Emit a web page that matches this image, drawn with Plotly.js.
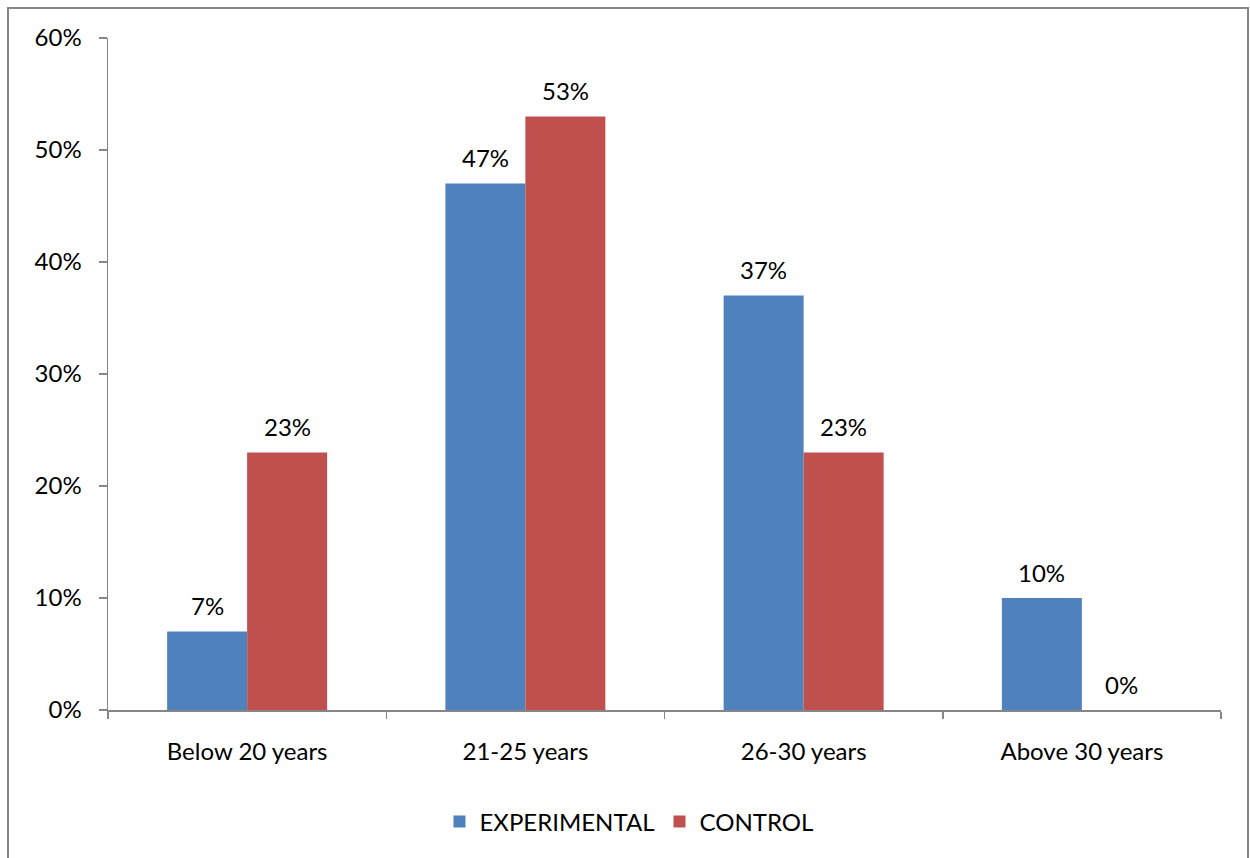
<!DOCTYPE html>
<html>
<head>
<meta charset="utf-8">
<script src="https://cdn.plot.ly/plotly-3.0.1.min.js"></script>
<style>
  html, body { margin: 0; padding: 0; background: #fff; }
  #chart { width: 1250px; height: 858px; }
</style>
</head>
<body>
<div id="chart"></div>
<script>
// Age groups of respondents in each study group (percent)
const categories = ["Below 20 years", "21-25 years", "26-30 years", "Above 30 years"];
const experimental = [7, 47, 37, 10];
const control = [23, 53, 23, 0];
const yTicks = [0, 10, 20, 30, 40, 50, 60];
const yTickLabels = yTicks.map(v => v + "%");

const W = 1250, H = 858;
const margin = { l: 108, r: 29, t: 38, b: 148 };
const plotW = W - margin.l - margin.r;
const plotH = H - margin.t - margin.b;
// convert pixel positions to paper coordinates for the outer frame
const px = x => (x - margin.l) / plotW;
const py = y => (H - margin.b - y) / plotH;

const font = { family: "Lato, 'Open Sans', sans-serif", size: 24, color: "#000" };
const bargap = 0.425;
const barW = (1 - bargap) / 2;

const seriesList = [
  { name: "EXPERIMENTAL", values: experimental, color: "#4F81BD", offset: -barW / 2 },
  { name: "CONTROL", values: control, color: "#C0504D", offset: barW / 2 }
];

const data = seriesList.map(s => ({
  type: "bar",
  name: s.name,
  x: categories,
  y: s.values,
  marker: { color: s.color },
  hoverinfo: "x+y+name"
}));

// value labels sit a little above each bar
const annotations = [];
seriesList.forEach(s => {
  s.values.forEach((v, i) => {
    annotations.push({
      x: i + s.offset,
      y: v,
      xref: "x",
      yref: "y",
      text: v + "%",
      showarrow: false,
      yanchor: "middle",
      yshift: 26,
      font: font
    });
  });
});

const layout = {
  width: W,
  height: H,
  margin: margin,
  paper_bgcolor: "#fff",
  plot_bgcolor: "#fff",
  font: font,
  barmode: "group",
  bargap: bargap,
  bargroupgap: 0,
  showlegend: true,
  legend: {
    orientation: "h",
    x: px(629),
    xanchor: "center",
    y: py(822),
    yanchor: "middle",
    font: font,
    itemwidth: 30,
    traceorder: "normal"
  },
  xaxis: {
    type: "category",
    showline: true,
    linecolor: "#868686",
    linewidth: 1.5,
    ticks: "outside",
    tickson: "boundaries",
    ticklen: 7,
    tickcolor: "#868686",
    tickwidth: 1.5,
    ticklabelstandoff: 20,
    showgrid: false,
    tickfont: font,
    fixedrange: true
  },
  yaxis: {
    range: [0, 60],
    tickvals: yTicks,
    ticktext: yTickLabels,
    showline: true,
    linecolor: "#868686",
    linewidth: 1.5,
    ticks: "outside",
    ticklen: 8,
    tickcolor: "#868686",
    tickwidth: 1.5,
    ticklabelstandoff: 12,
    showgrid: false,
    zeroline: false,
    tickfont: font,
    fixedrange: true
  },
  annotations: annotations,
  shapes: [{
    type: "rect",
    xref: "paper", yref: "paper",
    x0: px(8), x1: px(1248),
    y0: py(866), y1: py(8),
    line: { color: "#868686", width: 2 },
    fillcolor: "rgba(0,0,0,0)",
    layer: "below"
  }]
};

Plotly.newPlot("chart", data, layout, { displayModeBar: false, staticPlot: true });
</script>
</body>
</html>
